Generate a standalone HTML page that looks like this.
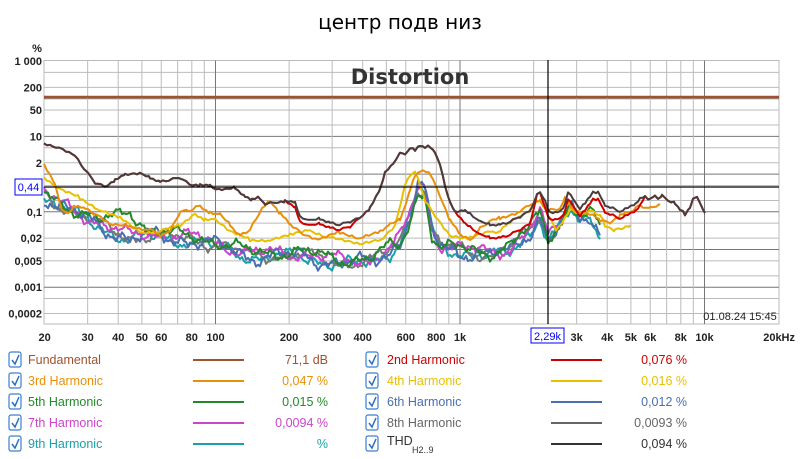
<!DOCTYPE html>
<html><head><meta charset="utf-8">
<style>
body{margin:0;background:#fff;width:800px;height:459px;overflow:hidden;font-family:"Liberation Sans","DejaVu Sans",sans-serif;}
svg{position:absolute;left:0;top:0}
.ax{font:11px "Liberation Sans",sans-serif;fill:#222;font-weight:bold}
.lg{font:12.5px "Liberation Sans",sans-serif}
</style></head><body>
<svg id="s" width="800" height="459" xmlns="http://www.w3.org/2000/svg">
<text x="400" y="29" text-anchor="middle" font-family="DejaVu Sans, Liberation Sans, sans-serif" font-size="20" fill="#000">центр подв низ</text>
<g id="grid"></g>
<text x="410" y="84" text-anchor="middle" font-family="DejaVu Sans, Liberation Sans, sans-serif" font-weight="bold" font-size="21" fill="#333">Distortion</text>
<g id="curves" fill="none" stroke-width="2" stroke-linejoin="round"></g>
<line x1="44" y1="97" x2="779" y2="97" stroke="#a0522d" stroke-width="2.5"/>
<line x1="44" y1="187" x2="779" y2="187" stroke="#000" stroke-width="1.2"/>
<line x1="548" y1="60" x2="548" y2="324" stroke="#000" stroke-width="1.2"/>
<rect x="15" y="179" width="27" height="16" fill="#fff" stroke="#00f"/>
<text x="28.5" y="191" text-anchor="middle" font-size="11" fill="#00f" font-family="Liberation Sans, sans-serif">0,44</text>
<text x="740" y="320" text-anchor="middle" font-size="11" fill="#222" font-family="Liberation Sans, sans-serif">01.08.24 15:45</text>
<g id="lab"></g>
<rect x="531" y="328" width="33" height="15" fill="#fff" stroke="#00f"/>
<text x="547.5" y="340" text-anchor="middle" font-size="11" fill="#00f" font-family="Liberation Sans, sans-serif">2,29k</text>
<g id="leg" class="lg"></g>
</svg>
<script>
var NS="http://www.w3.org/2000/svg";
function el(p,t,a,txt){var e=document.createElementNS(NS,t);for(var k in a)e.setAttribute(k,a[k]);if(txt!=null)e.textContent=txt;p.appendChild(e);return e;}
function X(f){return 460+244.5*Math.log10(f/1000);}
function Y(v){return 61+37.7*(3-Math.log10(v));}
var g=document.getElementById('grid');
el(g,'rect',{x:44,y:60.5,width:735,height:263.5,fill:'#fff',stroke:'#bbb'});
for(var d=-4;d<3;d++){[2,5].forEach(function(m){var y=Y(m*Math.pow(10,d));el(g,'line',{x1:44,x2:779,y1:y,y2:y,stroke:'#bbb'});});
 if(d>-4){var y=Y(Math.pow(10,d));el(g,'line',{x1:44,x2:779,y1:y,y2:y,stroke:'#777'});}}
for(var dd=10;dd<=10000;dd*=10){for(var m=1;m<10;m++){var f=m*dd;if(f<=20||f>=20000)continue;var x=X(f);
 var dark=(m==1);el(g,'line',{x1:x,x2:x,y1:60.5,y2:324,stroke:dark?'#777':'#bbb'});}}
var lab=document.getElementById('lab');
[["1 000",1000],["200",200],["50",50],["10",10],["2",2],["0,1",0.1],["0,02",0.02],["0,005",0.005],["0,001",0.001],["0,0002",0.0002]].forEach(function(a){
 el(lab,'text',{x:42,y:Y(a[1])+4,'text-anchor':'end','class':'ax'},a[0]);});
el(lab,'text',{x:37,y:52,'text-anchor':'middle','class':'ax'},'%');
[["20",20],["30",30],["40",40],["50",50],["60",60],["80",80],["100",100],["200",200],["300",300],["400",400],["600",600],["800",800],["1k",1000],["2",2000],["3k",3000],["4k",4000],["5k",5000],["6k",6000],["8k",8000],["10k",10000]].forEach(function(a){
 el(lab,'text',{x:X(a[1]),y:341,'text-anchor':'middle','class':'ax'},a[0]);});
el(lab,'text',{x:795,y:341,'text-anchor':'end','class':'ax'},'20kHz');
var cv=document.getElementById('curves');
function line(pts,c,w){el(cv,'polyline',{points:pts.map(function(p){return p.join(',')}).join(' '),stroke:c,'stroke-width':w||2});}
function noisy(base,seed,amp,off,x0,x1){var pts=[];for(var x=x0;x<=x1;x+=2){var i=0;while(i<base.length-2&&base[i+1][0]<x)i++;var a=base[i],b=base[i+1];var t=Math.max(0,Math.min(1,(x-a[0])/(b[0]-a[0])));var y=a[1]+(b[1]-a[1])*t+off;
 y+=amp*(Math.sin(x*0.21+seed)*0.6+Math.sin(x*0.53+seed*2.3)*0.4+Math.sin(x*0.09+seed*4.1)*0.8+Math.sin(x*1.3+seed*3.7)*0.3);pts.push([x,y.toFixed(1)]);}return pts;}
function jag(pts,amp,seed){var out=[];for(var i=0;i<pts.length-1;i++){var a=pts[i],b=pts[i+1];for(var x=a[0];x<b[0];x+=3){var t=(x-a[0])/(b[0]-a[0]);out.push([x,(a[1]+(b[1]-a[1])*t+amp*Math.sin(x*1.7+seed)*Math.sin(x*0.37+seed)).toFixed(1)]);}}out.push(pts[pts.length-1]);return out;}
var thd=[[44,143],[60,148],[75,155],[85,170],[95,183],[105,186],[115,180],[125,175],[140,174],[150,178],[160,181],[170,180],[180,178],[190,184],[200,185],[210,186],[216,190],[225,190],[235,188],[245,196],[252,200],[258,198],[265,204],[275,202],[285,201],[295,203],[300,217],[310,221],[320,219],[330,222],[340,225],[350,222],[360,217],[370,208],[380,190],[385,173],[393,163],[400,153],[405,154],[410,149],[415,150],[420,145],[425,148],[430,146],[435,152],[440,165],[445,185],[450,202],[455,212],[465,211],[470,214],[480,222],[490,225],[500,224],[510,222],[520,217],[530,210],[537,195],[540,193],[545,200],[550,213],[555,213],[560,211],[565,205],[568,193],[572,196],[577,205],[580,210],[585,203],[590,196],[593,192],[598,193],[605,205],[610,208],[615,208],[620,212],[625,209],[635,205],[640,199],[645,196],[650,200],[655,196],[658,199],[662,195],[668,202],[675,203],[680,210],[685,214],[690,207],[693,199],[697,197],[700,202],[705,213]];
var red=thd.map(function(p){var x=p[0],y=p[1];if(x>=295&&x<=350)y+=5;if(x>=465&&x<=535)y+=13;if(x>=545&&x<=640)y+=7;return [x,y];});
var base=[[44,195],[60,205],[80,215],[100,225],[130,238],[150,235],[200,240],[250,255],[300,255],[340,262],[370,262],[390,250],[400,240],[410,215],[418,188],[425,190],[432,230],[440,245],[460,250],[490,255],[510,250],[530,230],[540,215],[548,240],[560,225],[570,210],[580,220],[590,215],[600,232]];
line(noisy(base,1.0,5,2,44,600),'#1aa0a8');
line(noisy(base,2.0,5,0,44,560),'#777777');
line(noisy(base,3.0,5,-2,44,560),'#cc44cc');
line(noisy(base,4.0,6,1,44,600),'#4a6fb0');
var gb=base.map(function(p){var y=p[1];if(p[0]>=110&&p[0]<=135)y-=25;if(p[0]>=400&&p[0]<=440)y+=8;return [p[0],y]});
line(noisy(gb,5.0,5,-3,44,600),'#22892a');
line(jag([[44,178],[60,190],[80,198],[100,210],[120,218],[140,232],[160,232],[180,225],[195,213],[205,220],[215,220],[230,232],[250,240],[270,240],[290,235],[310,230],[330,238],[360,245],[380,240],[395,225],[405,185],[410,175],[415,172],[425,200],[435,215],[450,235],[470,238],[490,232],[500,232],[510,222],[520,215],[530,210],[540,200],[548,215],[556,230],[570,210],[580,215],[590,210],[600,215],[605,225],[615,230],[620,228],[630,225]],2,1),'#e8c000');
line(jag([[44,165],[55,185],[62,210],[68,215],[75,206],[85,207],[95,214],[110,225],[130,226],[150,230],[160,236],[170,230],[180,212],[190,211],[200,205],[210,213],[220,215],[230,225],[240,235],[250,230],[262,210],[270,200],[280,213],[290,225],[300,232],[320,240],[340,232],[360,238],[380,232],[390,225],[400,220],[410,190],[415,175],[420,172],[430,173],[440,195],[450,220],[460,235],[470,240],[480,228],[490,222],[500,218],[520,212],[530,205],[540,200],[548,210],[560,210],[565,198],[575,212],[590,215],[600,220],[610,222],[620,215],[630,213],[640,205],[650,208],[660,205]],2,2),'#e8900a');
line(jag(red,1.5,3),'#cc0000');
line(jag(thd,1.5,3),'#4a3c3c');
var leg=document.getElementById('leg');
var L=[["Fundamental","#a0522d","71,1 dB"],["2nd Harmonic","#cc0000","0,076 %"],["3rd Harmonic","#e8900a","0,047 %"],["4th Harmonic","#e8c000","0,016 %"],["5th Harmonic","#22892a","0,015 %"],["6th Harmonic","#4a6fb0","0,012 %"],["7th Harmonic","#cc44cc","0,0094 %"],["8th Harmonic","#666666","0,0093 %"],["9th Harmonic","#1aa0a8","%"],["THD","#333333","0,094 %"]];
L.forEach(function(a,i){var col=i%2,row=Math.floor(i/2);var y=360+row*21;var bx=col?366:9,tx=col?387:28,lx=col?551:193,vx=col?687:328;
 el(leg,'rect',{x:bx,y:y-8,width:12,height:15,rx:2,fill:'#fff',stroke:'#3a7fd0','stroke-width':1.2});
 el(leg,'path',{d:'M'+(bx+3)+' '+(y)+' l3 4 l4 -9',fill:'none',stroke:'#2a6fc0','stroke-width':1.5});
 var t=el(leg,'text',{x:tx,y:y+4,fill:a[1]},a[0]);
 if(a[0]=="THD"){el(leg,'text',{x:tx+25,y:y+9,fill:a[1],'font-size':9},'H2..9');t.setAttribute('y',y+1);}
 el(leg,'line',{x1:lx,x2:lx+51,y1:y,y2:y,stroke:a[1],'stroke-width':2});
 el(leg,'text',{x:vx,y:y+4,fill:a[1],'text-anchor':'end'},a[2]);});
</script>
</body></html>
